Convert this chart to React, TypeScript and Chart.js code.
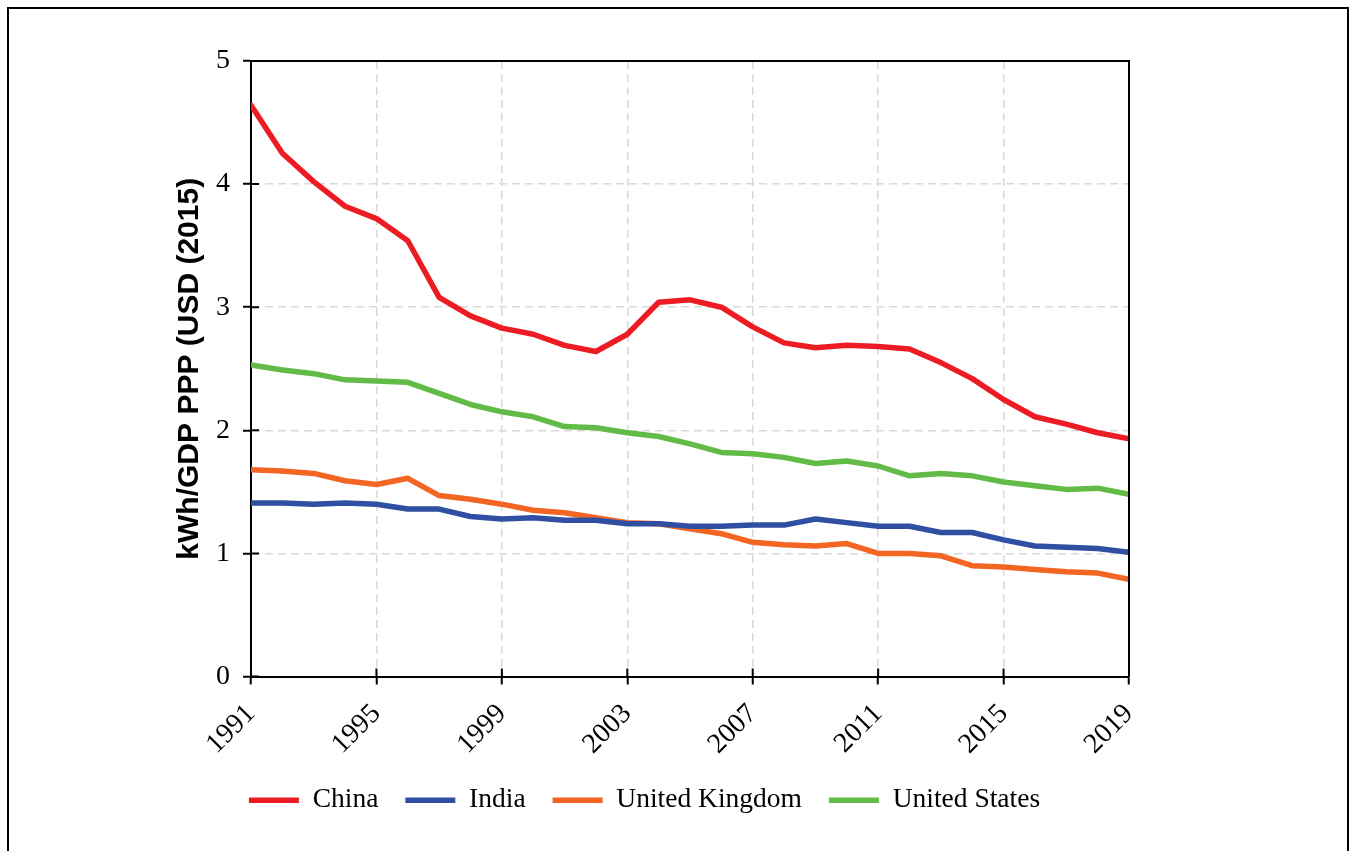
import React, { useEffect, useRef } from "react";
import { Chart, registerables } from "chart.js";

Chart.register(...registerables);

const years = [1991, 1992, 1993, 1994, 1995, 1996, 1997, 1998, 1999, 2000, 2001, 2002, 2003, 2004, 2005, 2006, 2007, 2008, 2009, 2010, 2011, 2012, 2013, 2014, 2015, 2016, 2017, 2018, 2019];

const china = [4.64, 4.25, 4.02, 3.82, 3.72, 3.54, 3.08, 2.93, 2.83, 2.78, 2.69, 2.64, 2.78, 3.04, 3.06, 3.0, 2.84, 2.71, 2.67, 2.69, 2.68, 2.66, 2.55, 2.42, 2.25, 2.11, 2.05, 1.98, 1.93];
const india = [1.41, 1.41, 1.4, 1.41, 1.4, 1.36, 1.36, 1.3, 1.28, 1.29, 1.27, 1.27, 1.24, 1.24, 1.22, 1.22, 1.23, 1.23, 1.28, 1.25, 1.22, 1.22, 1.17, 1.17, 1.11, 1.06, 1.05, 1.04, 1.01];
const uk = [1.68, 1.67, 1.65, 1.59, 1.56, 1.61, 1.47, 1.44, 1.4, 1.35, 1.33, 1.29, 1.25, 1.24, 1.2, 1.16, 1.09, 1.07, 1.06, 1.08, 1.0, 1.0, 0.98, 0.9, 0.89, 0.87, 0.85, 0.84, 0.79];
const us = [2.53, 2.49, 2.46, 2.41, 2.4, 2.39, 2.3, 2.21, 2.15, 2.11, 2.03, 2.02, 1.98, 1.95, 1.89, 1.82, 1.81, 1.78, 1.73, 1.75, 1.71, 1.63, 1.65, 1.63, 1.58, 1.55, 1.52, 1.53, 1.48];

const seriesNames = ["China", "India", "United Kingdom", "United States"];
const seriesColors = ["#ED1C24", "#2F4FA2", "#F26522", "#62BB46"];
const seriesValues = [china, india, uk, us];

const yTitle = "kWh/GDP PPP (USD (2015)";

const serif = "'Liberation Serif', 'Times New Roman', serif";
const sans = "'Liberation Sans', Arial, sans-serif";

const framePlugin = {
  id: "plotFrame",
  afterDraw(chart: any) {
    const { ctx, chartArea, scales } = chart;
    const { left, right, top, bottom } = chartArea;
    ctx.save();
    ctx.strokeStyle = "#000";
    ctx.lineWidth = 2;
    ctx.beginPath();
    ctx.moveTo(left, top);
    ctx.lineTo(right, top);
    ctx.lineTo(right, bottom);
    ctx.stroke();
    ctx.beginPath();
    scales.y.ticks.forEach((t: any) => {
      const y = scales.y.getPixelForValue(t.value);
      ctx.moveTo(left, y);
      ctx.lineTo(left + 8, y);
    });
    scales.x.ticks.forEach((t: any) => {
      const x = scales.x.getPixelForValue(t.value);
      ctx.moveTo(x, bottom);
      ctx.lineTo(x, bottom - 8);
    });
    ctx.stroke();
    ctx.restore();
  },
};

export default function App() {
  const canvasRef = useRef<HTMLCanvasElement | null>(null);

  useEffect(() => {
    if (!canvasRef.current) return;
    const datasets = seriesNames.map((name, i) => ({
      label: name,
      data: years.map((yr, j) => ({ x: yr, y: seriesValues[i][j] })),
      borderColor: seriesColors[i],
      backgroundColor: seriesColors[i],
      borderWidth: 5.5,
      borderCapStyle: "round" as const,
      borderJoinStyle: "round" as const,
      pointRadius: 0,
      tension: 0,
      fill: false,
    }));

    const chart = new Chart(canvasRef.current, {
      type: "line",
      data: { datasets },
      options: {
        responsive: false,
        animation: false,
        devicePixelRatio: 1,
        layout: { padding: { left: 160, right: 222, top: 61, bottom: 27 } },
        plugins: {
          tooltip: { enabled: false },
          legend: {
            position: "bottom",
            labels: {
              usePointStyle: true,
              pointStyle: "line",
              pointStyleWidth: 50,
              padding: 27,
              color: "#000",
              font: { family: serif, size: 27.5 },
            },
          },
        },
        scales: {
          x: {
            type: "linear",
            min: 1991,
            max: 2019,
            afterFit: (s: any) => {
              s.height = 83;
            },
            ticks: {
              stepSize: 4,
              autoSkip: false,
              maxRotation: 45,
              minRotation: 45,
              padding: 13,
              color: "#000",
              font: { family: serif, size: 28 },
              callback: (v: any) => String(v),
            },
            grid: {
              color: (c: any) =>
                c.tick && (c.tick.value === 1991 || c.tick.value === 2019) ? "rgba(0,0,0,0)" : "#d9d9d9",
              lineWidth: 1.5,
              tickColor: "#000",
              tickWidth: 2,
              tickLength: 8,
            },
            border: { display: true, color: "#000", width: 2, dash: [8, 5] },
          },
          y: {
            type: "linear",
            min: 0,
            max: 5,
            afterFit: (s: any) => {
              s.width = 91;
            },
            ticks: {
              stepSize: 1,
              padding: 13,
              color: "#000",
              font: { family: serif, size: 28 },
            },
            grid: {
              color: (c: any) =>
                c.tick && (c.tick.value === 0 || c.tick.value === 5) ? "rgba(0,0,0,0)" : "#d9d9d9",
              lineWidth: 1.5,
              tickColor: "#000",
              tickWidth: 2,
              tickLength: 8,
            },
            border: { display: true, color: "#000", width: 2, dash: [8, 5] },
            title: {
              display: true,
              text: yTitle,
              color: "#000",
              font: { family: sans, size: 30, weight: "bold" },
              padding: { top: 12, bottom: 0 },
            },
          },
        },
      },
      plugins: [framePlugin],
    });
    return () => chart.destroy();
  }, []);

  return (
    <>
      <div
        style={{
          position: "absolute",
          left: 7,
          top: 7,
          width: 1342,
          height: 844,
          border: "2px solid #000",
          borderBottom: "none",
          boxSizing: "border-box",
        }}
      />
      <canvas
        ref={canvasRef}
        width={1351}
        height={851}
        style={{ position: "absolute", left: 0, top: 0, display: "block" }}
      />
    </>
  );
}
